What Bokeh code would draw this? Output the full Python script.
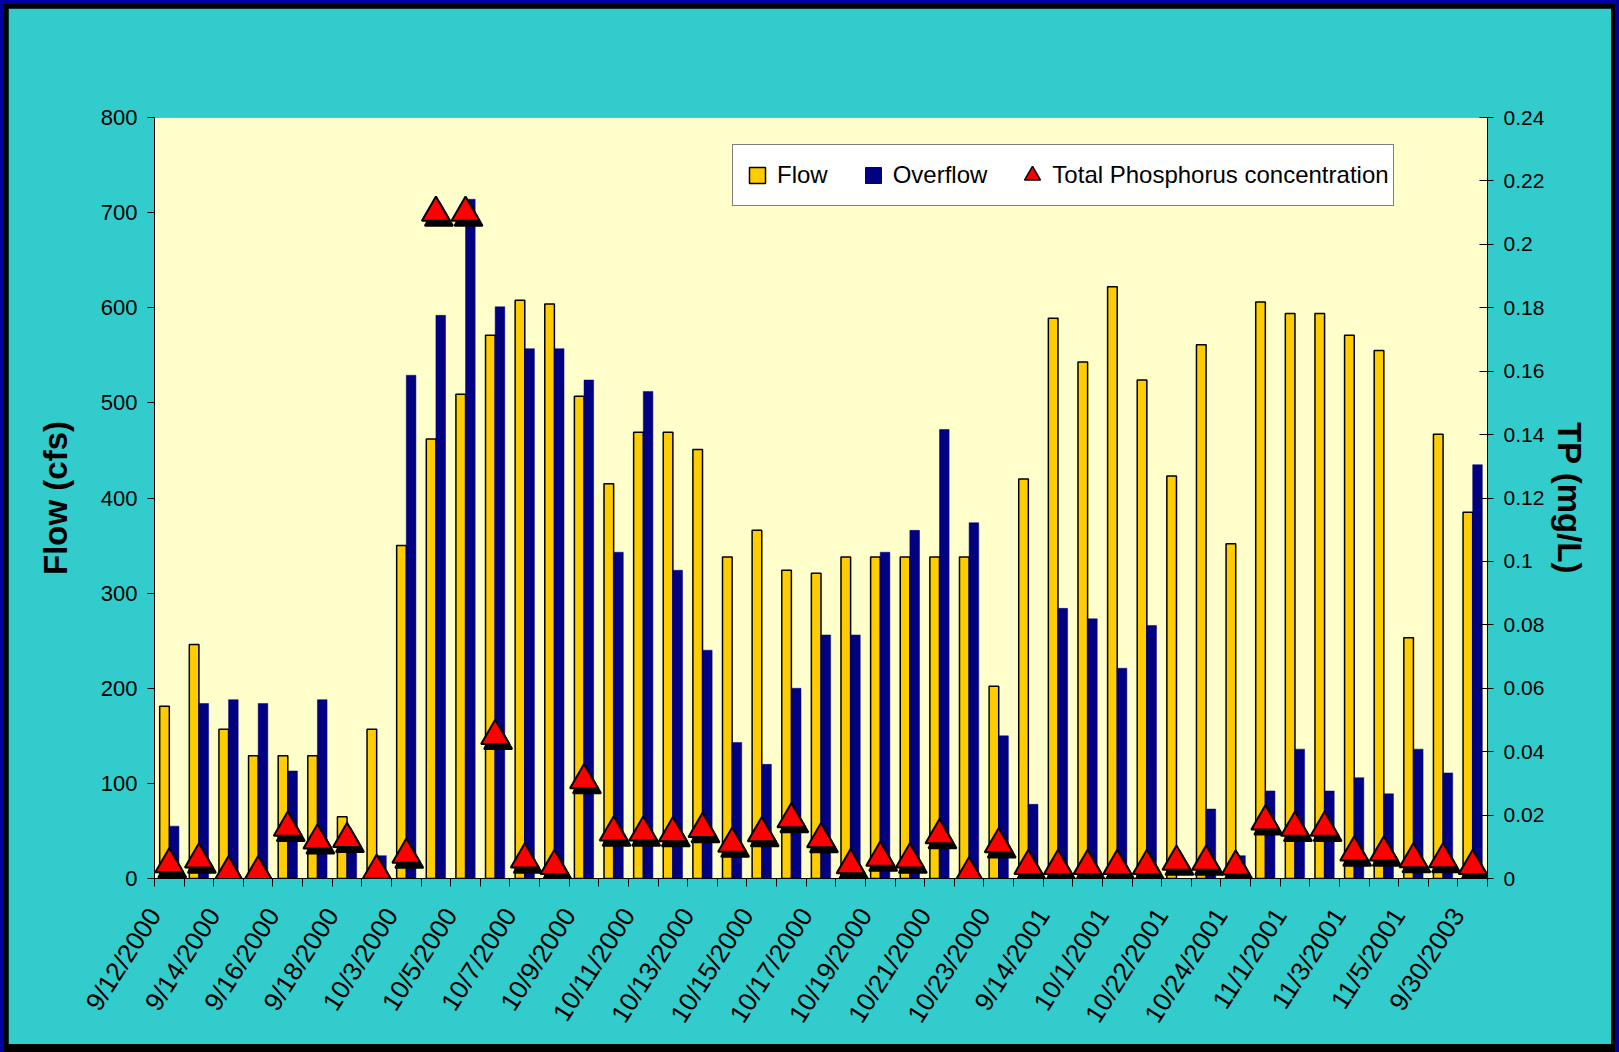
import numpy as np
from bokeh.plotting import figure
from bokeh.models import (Range1d, LinearAxis, FixedTicker, Legend, LegendItem,
                          ColumnDataSource)
from bokeh.transform import dodge
from bokeh.embed import file_html
from bokeh.resources import INLINE

# ---------------- data ----------------
dates = ["9/12/2000", "9/13/2000", "9/14/2000", "9/15/2000", "9/16/2000", "9/17/2000",
         "9/18/2000", "9/19/2000", "10/3/2000", "10/4/2000", "10/5/2000", "10/6/2000",
         "10/7/2000", "10/8/2000", "10/9/2000", "10/10/2000", "10/11/2000", "10/12/2000",
         "10/13/2000", "10/14/2000", "10/15/2000", "10/16/2000", "10/17/2000", "10/18/2000",
         "10/19/2000", "10/20/2000", "10/21/2000", "10/22/2000", "10/23/2000", "9/13/2001",
         "9/14/2001", "9/15/2001", "10/1/2001", "10/2/2001", "10/22/2001", "10/23/2001",
         "10/24/2001", "10/25/2001", "11/1/2001", "11/2/2001", "11/3/2001", "11/4/2001",
         "11/5/2001", "11/6/2001", "9/30/2003"]

flow = [181, 246, 157, 129, 129, 129, 65, 157, 350, 462, 509, 571, 608, 604, 507,
        415, 469, 469, 451, 338, 366, 324, 321, 338, 338, 338, 338, 338, 202, 420,
        589, 543, 622, 524, 423, 561, 352, 606, 594, 594, 571, 555, 253, 467, 385]

overflow = [55, 184, 188, 184, 113, 188, 30, 24, 529, 592, 714, 601, 557, 557, 524,
            343, 512, 324, 240, 143, 120, 200, 256, 256, 343, 366, 472, 374, 150, 78,
            284, 273, 221, 266, 0, 73, 24, 92, 136, 92, 106, 89, 136, 111, 435]

tp = [0.0045, 0.006, 0.002, 0.002, 0.016, 0.012, 0.0125, 0.0025, 0.0075, 0.21, 0.21,
      0.045, 0.006, 0.004, 0.031, 0.0145, 0.0145, 0.0143, 0.0156, 0.011, 0.0143, 0.0187,
      0.0124, 0.0042, 0.0066, 0.006, 0.0137, 0.0017, 0.0108, 0.004, 0.004, 0.004, 0.004,
      0.004, 0.0053, 0.0053, 0.0038, 0.018, 0.016, 0.016, 0.0082, 0.0082, 0.0061, 0.0061,
      0.004]

flow_ticks = [0, 100, 200, 300, 400, 500, 600, 700, 800]
tp_ticks = [0, 0.02, 0.04, 0.06, 0.08, 0.1, 0.12, 0.14, 0.16, 0.18, 0.2, 0.22, 0.24]

series_names = ["Flow", "Overflow", "Total Phosphorus concentration"]

# ---------------- styling ----------------
SANS = "'Liberation Sans', Arial, sans-serif"
CYAN = "#33CCCC"
PLOTBG = "#FFFFCC"
YELLOW = "#FFCC00"
NAVY = "#000080"
RED = "#FF0000"

n = len(dates)
centers = [i + 0.5 for i in range(n)]

src = ColumnDataSource(dict(x=centers, flow=flow, overflow=overflow, tp=tp, date=dates))

p = figure(width=1603, height=1036, output_backend="svg", toolbar_location=None,
           x_range=Range1d(0, n), y_range=Range1d(flow_ticks[0], flow_ticks[-1]),
           min_border_left=146, min_border_right=124, min_border_top=109,
           min_border_bottom=166,
           background_fill_color=PLOTBG, border_fill_color=CYAN)
p.outline_line_color = None
p.xgrid.visible = False
p.ygrid.visible = False
p.extra_y_ranges = {"tp": Range1d(tp_ticks[0], tp_ticks[-1])}

bw = 0.325
p.vbar(x=dodge("x", -bw / 2), top="flow", bottom=0, width=bw, source=src,
       fill_color=YELLOW, line_color="black", line_width=1.5)
p.vbar(x=dodge("x", bw / 2), top="overflow", bottom=0, width=bw, source=src,
       fill_color=NAVY, line_color=NAVY, line_width=0.5)

# triangle shadow + triangles
p.scatter(x=dodge("x", 0.1), y=dodge("tp", -0.0016), source=src, y_range_name="tp",
          marker="triangle", size=28, fill_color="black", line_color="black",
          line_width=2)
tri = p.scatter(x="x", y="tp", source=src, y_range_name="tp", marker="triangle",
                size=28, fill_color=RED, line_color="black", line_width=2)

# legend swatches: zero-size markers on the plot (legend computes its own size)
sq_flow = p.scatter(x="x", y="flow", source=src, marker="square", size=0,
                    fill_color=YELLOW, line_color="black", line_width=1.5)
sq_over = p.scatter(x="x", y="overflow", source=src, marker="square", size=0,
                    fill_color=NAVY, line_color=NAVY, line_width=1)
tri_leg = p.scatter(x="x", y="tp", source=src, y_range_name="tp", marker="triangle",
                    size=0, fill_color=RED, line_color="black", line_width=1.5)

# x axis: ticks at category boundaries, dates on every other category
xa = p.xaxis[0]
xa.ticker = FixedTicker(ticks=list(range(n + 1)))
xa.major_label_overrides = {i: (dates[i] if (i < n and i % 2 == 0) else "")
                            for i in range(n + 1)}
xa.major_label_orientation = 1.0
xa.major_label_text_font = SANS
xa.major_label_text_font_size = "26px"
xa.major_label_text_color = "black"
xa.major_label_standoff = 24
xa.major_tick_in = 0
xa.major_tick_out = 8
xa.minor_tick_line_color = None
xa.axis_line_color = "black"
xa.major_tick_line_color = "black"

ya = p.yaxis[0]
ya.ticker = FixedTicker(ticks=flow_ticks)
ya.major_tick_in = 0
ya.major_tick_out = 7
ya.minor_tick_line_color = None
ya.major_label_text_font = SANS
ya.major_label_text_font_size = "22px"
ya.major_label_text_color = "black"
ya.major_label_standoff = 10
ya.axis_line_color = "black"
ya.axis_label = "Flow (cfs)"
ya.axis_label_text_font = SANS
ya.axis_label_text_font_size = "33px"
ya.axis_label_text_font_style = "bold"
ya.axis_label_text_color = "black"
ya.axis_label_standoff = 24

ra = LinearAxis(y_range_name="tp", ticker=FixedTicker(ticks=tp_ticks))
ra.major_label_overrides = {t: f"{t:g}" for t in tp_ticks}
ra.major_tick_in = 8
ra.major_tick_out = 6
ra.minor_tick_line_color = None
ra.major_label_text_font = SANS
ra.major_label_text_font_size = "21px"
ra.major_label_text_color = "black"
ra.major_label_standoff = 10
ra.axis_line_color = "black"
ra.axis_label = "TP (mg/L)"
ra.axis_label_text_font = SANS
ra.axis_label_text_font_size = "33px"
ra.axis_label_text_font_style = "bold"
ra.axis_label_text_color = "black"
ra.axis_label_standoff = 4
p.add_layout(ra, "right")

legend = Legend(items=[LegendItem(label=series_names[0], renderers=[sq_flow]),
                       LegendItem(label=series_names[1], renderers=[sq_over]),
                       LegendItem(label=series_names[2], renderers=[tri_leg])],
                orientation="horizontal", location=(578, 672),
                glyph_width=40, glyph_height=52, label_standoff=0, spacing=25,
                padding=4, margin=0,
                label_text_font=SANS, label_text_font_size="24px",
                label_text_color="black",
                background_fill_color="white", background_fill_alpha=1.0,
                border_line_color="black", border_line_width=1)
p.add_layout(legend, "center")

html = file_html(p, INLINE, title="Flow, Overflow and Total Phosphorus")
html = html.replace(
    "</head>",
    "<style>html{background:#0000a0;overflow:hidden;}"
    "body{margin:4px;padding:4px;background:#000000;}</style></head>", 1)
open("out.html", "w").write(html)
